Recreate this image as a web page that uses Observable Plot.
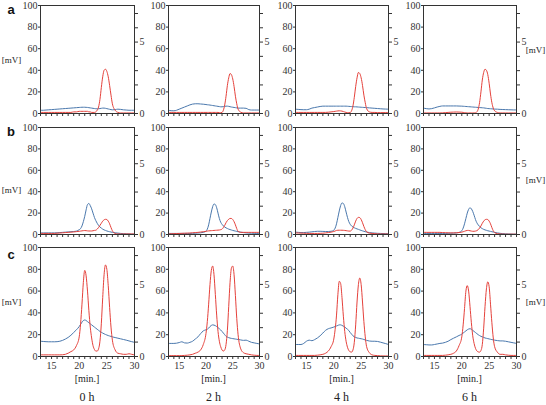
<!DOCTYPE html>
<html><head><meta charset="utf-8">
<script src="https://cdn.jsdelivr.net/npm/d3@7"></script>
<script src="https://cdn.jsdelivr.net/npm/@observablehq/plot@0.6"></script>
<style>
body{margin:0;background:#fff;}
#chart{position:relative;width:546px;height:405px;overflow:hidden;font-family:"Liberation Serif","Times New Roman",serif;color:#222;background:#fff;}
.lbl{position:absolute;white-space:nowrap;line-height:1;transform:translate(-50%,-50%);}
</style></head><body><div id="chart"></div>
<script>
// time axis (min.)
const T = [13,13.5,14,14.5,15,15.5,16,16.5,17,17.5,18,18.5,19,19.5,20,
  20.25,20.5,20.75,21,21.25,21.5,21.75,22,22.25,22.5,22.75,23,23.25,23.5,23.75,24,24.25,24.5,24.75,25,25.25,25.5,25.75,26,
  26.5,27,27.5,28,28.5,29,29.5,30];

const rowNames = ["a","b","c"];
const timeLabels = ["0 h","2 h","4 h","6 h"];
const leftTicks = [0,20,40,60,80,100];
const rightTicks = [0,1,2,3,4,5,6,7];
const rightLabels = [0,5];
const rightMax = 7.56;
const xTicks = [13,14,15,16,17,18,19,20,21,22,23,24,25,26,27,28,29,30];
const xLabels = [15,20,25,30];

// row a
const a0Red = [1,1,1,1,1,1,1,1,1,1,1,1,1.5,1.5,2, 2,2,2,2,2,2,1.5,1.5,1,1,1, 1.5,3,6,13,24,34,40,41,39,34,26,17,9, 3,1,0.5,0.5,0.5,0.5,0.5,0.5];
const a0Blue = [3,3,3.2,3.4,3.6,3.8,4,4.2,4.4,4.6,4.8,5,5.2,5.4,5.6, 5.7,5.8,5.8,5.8,5.7,5.6,5.4,5.2,5,4.8,4.6, 4.4,4.3,4.4,4.6,4.8,5,5,4.8,4.5,4.2,3.9,3.6,3.4, 3.6,4,3.8,3.4,3.2,3,3,3];
const a2Red = [1,1,1,1,1,1,1,1,1,1,1,1,1,1,1, 1,1,1,1,1,1,1,1,1,0.8,0.7, 1,3,8,16,26,33,37,36,32,25,16,9,4, 1.2,0.5,0.5,0.5,0.5,0.5,0.5,0.5];
const a2Blue = [3,2.6,2.5,3,4,5,6,7,8,8.7,9,9,8.8,8.6,8.3, 8.1,8,7.8,7.6,7.4,7.2,7,6.8,6.6,6.4,6.2, 6.2,6.4,6.6,6.8,6.8,6.6,6.3,6,5.8,5.6,5.4,5.2,5, 5,5,4.8,3.6,3.2,3.2,3.2,3.2];
const a4Red = [1,1,1,1,1,1,1,1,1,1,1,1,1.2,1.5,1.8, 2,2.2,2.4,2.5,2.4,2.2,1.8,1.4,1,0.8,0.7, 0.9,2.5,7,15,25,33,38,37,33,26,17,10,4.5, 1.5,1,1,0.8,0.8,0.8,0.8,0.8];
const a4Blue = [4,3.8,3.6,3.5,3.5,4,5,5.5,6,6.5,6.8,6.8,6.8,6.8,6.8, 6.8,6.8,6.8,6.8,6.8,6.8,6.8,6.8,6.8,6.7,6.6, 6.5,6.4,6.3,6.2,6.2,6.1,6,5.9,5.8,5.7,5.6,5.5,5.4, 5.2,5,4.8,4.6,4.4,4.2,4.1,4];
const a6Red = [0.5,0.5,0.5,0.5,0.5,0.5,0.5,0.6,0.8,1,1.2,1.3,1.4,1.3,1.2, 1,0.8,0.6,0.5,0.5,0.5,0.5,0.5,0.5,0.6,1.5, 4,10,20,31,38,41,40,36,28,18,10,5,2.5, 1,0.5,0.5,0.5,0.5,0.5,0.5,0.5];
const a6Blue = [5,4.5,4.2,4.5,5.2,6,6.6,7,7,7,7,7,7,6.9,6.8, 6.7,6.6,6.5,6.4,6.3,6.2,6.1,6,5.9,5.8,5.7, 5.6,5.5,5.4,5.3,5.2,5,4.8,4.6,4.5,4.4,4.3,4.2,4.1, 4,3.8,3.7,3.6,3.5,3.4,3.3,3.3];

// row b
const b0Red = [1,1,1,1,1,1,1.2,1.4,1.6,1.8,2,2.2,2.4,2.7,3, 3.2,3.4,3.6,3.7,3.6,3.4,3.3,3.3,3.3,3.5,3.8, 4,5,6.5,8.5,10.5,12.5,13.7,14.2,14,12.5,10,6.5,3.5, 1,0.5,0.5,0.5,0.5,0.5,0.5,0.5];
const b0Blue = [1.5,1.5,1.5,1.5,1.5,1.5,1.6,1.8,2,2.2,2.4,2.6,2.8,3.2,4.5, 5.5,8,12,17,23,28,29,27,24,20,16, 13,10.5,8.5,7,6,5,4.3,3.8,3.3,2.9,2.6,2.3,2, 1.6,1.3,1,0.8,0.6,0.5,0.4,0.3];
const b2Red = [0.6,0.7,0.8,0.9,1,1.1,1.2,1.3,1.4,1.6,1.8,2,2.3,2.6,3, 3.2,3.4,3.5,3.6,3.7,3.8,3.9,4,4.1,4.2,4.5, 5,6.5,8.5,11,13,14.3,15,15,14,12,9,5.5,3, 2,2,2,2,2,2,2,2];
const b2Blue = [1,1,1,1,1,1,1,1,1,1.1,1.2,1.4,1.6,2,3, 5,9,15,21,26,28.5,28,25,20,15,11.5, 9.5,8,7,6.2,5.6,5,4.6,4.2,3.8,3.5,3.2,2.9,2.6, 2.2,1.8,1.5,1.3,1.2,1.1,1,1];
const b4Red = [1.5,1.4,1.3,1.2,1.1,1,1,1,1,1.1,1.2,1.5,1.8,2.2,2.8, 3.3,3.8,4,4,4,4,3.9,3.8,3.6,3.4,3.2, 3.2,4,6,9,12.5,15,16,15.8,14,11,7.5,4.5,2.5, 1.3,1,0.8,0.6,0.5,0.5,0.5,0.5];
const b4Blue = [2.2,2,1.8,1.8,2,2.2,2.5,2.8,3,3,2.9,2.8,2.8,3,4, 6,10,16,22,27,29.5,29,26,21,16,12, 9.5,8,7,6.3,5.7,5.2,4.8,4.3,3.8,3.4,3,2.6,2.3, 1.8,1.5,1.3,1.1,1,0.9,0.8,0.7];
const b6Red = [2,2,2,2,2,2,2,1.8,1.7,1.6,1.5,1.5,1.6,1.8,2.2, 2.6,3,3.5,3.8,3.8,3.5,3.2,3,3,3.2,3.6, 4.5,6,8,10.5,12.5,13.8,14.2,14,12.5,10,6.5,3.5,1.8, 0.8,0.5,0.4,0.3,0.3,0.3,0.3,0.3];
const b6Blue = [1,1,1,1,1,1,1,1,1,1.1,1.2,1.3,1.5,2,3.5, 6,10,15,20,23.5,25,24,21.5,18,14,11, 9,7.5,6.3,5.5,4.8,4.3,3.9,3.5,3.2,2.9,2.6,2.3,2, 1.5,1.1,0.8,0.6,0.5,0.4,0.3,0.3];

// row c
const c0Red = [1.5,1.5,1.5,1.5,1.5,1.5,1.5,1.5,1.6,2,3,4.5,6,10,18, 30,48,68,79,74,60,42,27,17,10,6.5, 5,5,7,14,30,54,75,84,80,65,45,27,15, 6,3,2.5,2,2,2.5,2,1.5];
const c0Blue = [14,13.8,13.6,13.5,13.5,13.5,13.6,14,14.8,16,17.5,19.5,22,24.5,27.5, 29.5,31.5,33,33.5,33,32,31,30,29,28,27, 26,25,24,23,22.2,21.5,20.8,20.2,19.7,19.2,18.8,18.4,18, 17.4,16.8,16.2,15.6,15,14.3,13.6,13];
const c2Red = [0.8,0.8,0.8,0.8,0.8,0.8,1,1.2,1.5,2,3,4,6,11,21, 32,48,66,79,83,75,57,38,23,14,9, 6,5,6,11,24,46,68,81,83,75,56,35,20, 7,3.5,2.5,2,1.5,1.2,1,1];
const c2Blue = [12,12,12,12.2,12.8,13.5,12.5,12.3,13,14,16,18,21,23.5,24.5, 25,26,27.5,28.5,29,28.8,28.3,27.5,26.5,25.5,24.3, 23,21.5,20,18.5,17.8,17.3,16.9,16.6,16.4,16.2,16,15.8,15.6, 15.2,14.8,15,14,13,12.5,12,11.5];
const c4Red = [1,1,1,1,1,1,1,1,1.2,1.5,2,3,5,9,16, 25,38,57,69,67,54,37,23,14,8.5,5.5, 4.3,4,6,13,29,50,66,72,66,50,32,18,9, 3.5,1.5,1,0.8,0.6,0.5,0.5,0.5];
const c4Blue = [11,11,11,12,14,15,14.5,15.5,17,19,21.5,24,25.5,26.2,27, 27.5,28,28.5,29,29,28.5,27.8,27,26,25,23.8, 22,20.5,19,18,17.5,17,16.8,16.5,16.3,16,15.6,15.2,14.8, 14.2,14,14,13.8,13.2,12.5,11.8,11];
const c6Red = [1,1,1,1,1,1,1,1,1.2,1.5,2,3,5,10,18, 29,44,60,65,60,46,31,19,12,7.5,5.2, 4.2,4,5.5,11,26,46,62,68.5,64,48,31,17,9, 4,2,2,1.5,1.2,1,1,1];
const c6Blue = [11,10.8,10.6,10.6,11,11.5,12,12.3,13,14,15.5,16.8,18,19.3,20.5, 21.5,22.5,23.5,24.5,25.2,25.5,25,24,23,22,21, 20,19.2,18.5,18,17.5,17,16.7,16.4,16.1,15.8,15.5,15.2,15, 14.6,14.3,14.3,14,13.5,13,12.5,12];

const panels = [
  [a0Red,a0Blue],[a2Red,a2Blue],[a4Red,a4Blue],[a6Red,a6Blue],
  [b0Red,b0Blue],[b2Red,b2Blue],[b4Red,b4Blue],[b6Red,b6Blue],
  [c0Red,c0Blue],[c2Red,c2Blue],[c4Red,c4Blue],[c6Red,c6Blue]
];

const RED = "#e5413b", BLUE = "#4a78ad", AX = "#333";
const FONT = "'Liberation Serif', 'Times New Roman', serif";
const colLeft = [40,168,295,423], colRight = [134,259,388,516];
const rowTop = [5,127,247], rowBottom = [113,234,356];
const mL = 30, mR = 22, mT = 8, mB = 18;
const k = 100 / rightMax;
const chart = document.getElementById("chart");

function toData(arr) {
  const n = Math.min(arr.length, T.length);
  return d3.range(n).map(i => ({t: T[i], v: arr[i]}));
}

panels.forEach(([red, blue], idx) => {
  const row = Math.floor(idx / 4), col = idx % 4;
  const fw = colRight[col] - colLeft[col], fh = rowBottom[row] - rowTop[row];
  const svg = Plot.plot({
    width: fw + mL + mR, height: fh + mT + mB,
    marginLeft: mL, marginRight: mR, marginTop: mT, marginBottom: mB,
    x: {domain: [13, 30], axis: null},
    y: {domain: [0, 100], axis: null},
    style: {background: "transparent", overflow: "visible", fontFamily: FONT, fontSize: "10px", color: AX},
    marks: [
      Plot.line(toData(blue), {x: "t", y: "v", stroke: BLUE, strokeWidth: 1, curve: "monotone-x"}),
      Plot.line(toData(red), {x: "t", y: "v", stroke: RED, strokeWidth: 1, curve: "monotone-x"}),
      Plot.axisY({anchor: "left", ticks: leftTicks, tickSize: 2, tickPadding: 1, label: null, fontFamily: FONT}),
      Plot.axisY({anchor: "right", ticks: rightTicks.map(v => v * k), tickSize: 3, tickPadding: 2, label: null, fontFamily: FONT,
        tickFormat: d => { const v = Math.round(d / k); return rightLabels.includes(v) ? String(v) : ""; }}),
      Plot.axisX({anchor: "bottom", ticks: xTicks, tickSize: 3, tickPadding: 2, label: null, fontFamily: FONT,
        tickFormat: row === 2 ? (d => xLabels.includes(d) ? String(d) : "") : (() => "")}),
      Plot.frame({stroke: AX})
    ]
  });
  svg.style.position = "absolute";
  svg.style.left = (colLeft[col] - mL) + "px";
  svg.style.top = (rowTop[row] - mT) + "px";
  chart.appendChild(svg);
});

function addLabel(text, x, y, css) {
  const el = document.createElement("div");
  el.className = "lbl";
  el.textContent = text;
  el.style.left = x + "px";
  el.style.top = y + "px";
  Object.assign(el.style, css || {});
  chart.appendChild(el);
}

const letterY = [9, 131, 254];
const leftMvY = [60, 190, 302];
const rightMvY = [50, 180, 302];
rowNames.forEach((n, r) => {
  addLabel(n, 11, letterY[r], {fontFamily: "'Liberation Sans', Arial, sans-serif", fontWeight: "bold", fontSize: "13px", color: "#111"});
  addLabel("[mV]", 11.5, leftMvY[r], {fontSize: "9px"});
  addLabel("[mV]", 535.5, rightMvY[r], {fontSize: "9px"});
});
timeLabels.forEach((t, c) => {
  const cx = (colLeft[c] + colRight[c]) / 2;
  addLabel("[min.]", cx, 379, {fontSize: "10px"});
  addLabel(t, cx, 397, {fontSize: "12px"});
});
</script>
</body></html>
